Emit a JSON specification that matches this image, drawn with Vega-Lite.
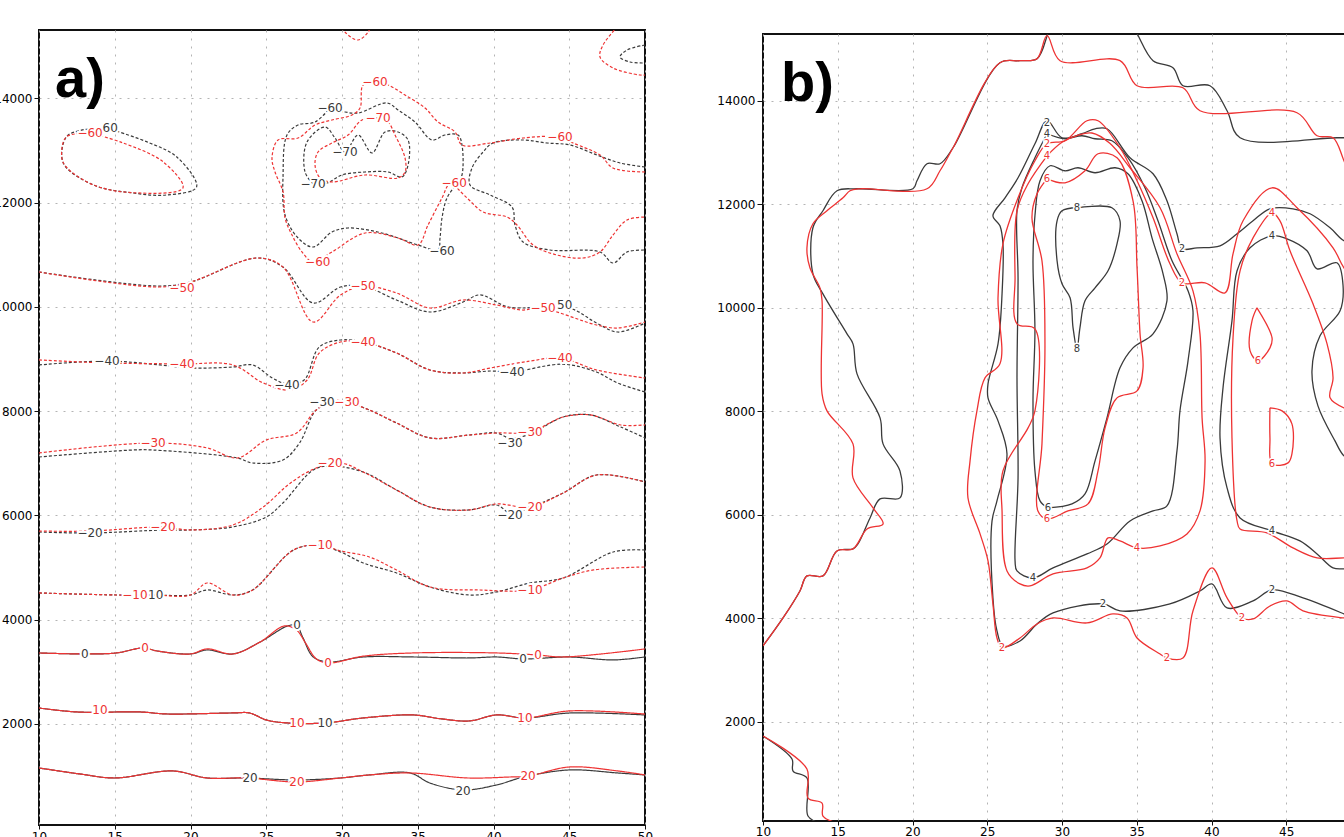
{
"$schema":"https://vega.github.io/schema/vega-lite/v6.json",
"padding":{"left":-8,"top":29,"right":0,"bottom":0},
"background":"white",
"spacing":118,
"bounds":"flush",
"center":true,
"config":{
 "view":{"stroke":"#111","strokeWidth":2},
 "axis":{"labelFont":"DejaVu Sans","labelFontSize":12,"labelColor":"#000","tickColor":"#111","domain":false,"grid":true,"gridColor":"#b4b4b4","gridDash":[2,6],"title":null,"labelFlush":false,"labelOverlap":false,"format":"d"}
},
"datasets":{
"meta":[
{"c":"ak20","r":"k","v":20},{"c":"ar20","r":"r","v":20},{"c":"ak10","r":"k","v":10},{"c":"ar10","r":"r","v":10},
{"c":"ak0","r":"k","v":0},{"c":"ar0","r":"r","v":0},{"c":"akm10","r":"k","v":-10},{"c":"arm10","r":"r","v":-10},
{"c":"akm20","r":"k","v":-20},{"c":"arm20","r":"r","v":-20},{"c":"akm30","r":"k","v":-30},{"c":"arm30","r":"r","v":-30},
{"c":"akm40","r":"k","v":-40},{"c":"arm40","r":"r","v":-40},{"c":"akm50","r":"k","v":-50},{"c":"arm50","r":"r","v":-50},
{"c":"akm60a","r":"k","v":-60},{"c":"arm60a","r":"r","v":-60},{"c":"akm60b","r":"k","v":-60},{"c":"akm60c","r":"k","v":-60},
{"c":"arm60b","r":"r","v":-60},{"c":"akm70","r":"k","v":-70},{"c":"arm70","r":"r","v":-70},{"c":"arv","r":"r","v":-70},
{"c":"artr","r":"r","v":-60},{"c":"aktr","r":"k","v":-60},
{"c":"bk2o","r":"k","v":2},{"c":"br2o","r":"r","v":2},{"c":"bk2t","r":"k","v":2},{"c":"bkbl","r":"k","v":2},{"c":"brbl","r":"r","v":2},
{"c":"bk2c","r":"k","v":2},{"c":"br2c","r":"r","v":2},{"c":"bk4c","r":"k","v":4},{"c":"br4c","r":"r","v":4},
{"c":"bk6c","r":"k","v":6},{"c":"br6c","r":"r","v":6},{"c":"bk8","r":"k","v":8},{"c":"bk4r","r":"k","v":4},{"c":"br4r","r":"r","v":4},
{"c":"br6a","r":"r","v":6},{"c":"br6b","r":"r","v":6}
],
"tags":[{"p":"a","t":"a)","x":11.06,"y":14026},{"p":"b","t":"b)","x":11.2,"y":14004}],
"pa":[
{"c":"ak20","x":10,"y":1156},{"c":"ak20","x":12.7,"y":1041},{"c":"ak20","x":15,"y":964},{"c":"ak20","x":18.8,"y":1099},{"c":"ak20","x":21.1,"y":964},{"c":"ak20","x":23.7,"y":964},{"c":"ak20","x":27,"y":926},{"c":"ak20","x":29.9,"y":964},{"c":"ak20","x":31.8,"y":1022},{"c":"ak20","x":34.5,"y":1060},{"c":"ak20","x":35.8,"y":868},{"c":"ak20","x":38,"y":734},{"c":"ak20","x":40.2,"y":830},{"c":"ak20","x":42,"y":983},{"c":"ak20","x":45,"y":1118},{"c":"ak20","x":48.2,"y":1060},{"c":"ak20","x":50,"y":1022},
{"c":"ak10","x":10,"y":2307},{"c":"ak10","x":12.5,"y":2230},{"c":"ak10","x":16.7,"y":2230},{"c":"ak10","x":18.4,"y":2192},{"c":"ak10","x":22.8,"y":2211},{"c":"ak10","x":23.9,"y":2211},{"c":"ak10","x":25,"y":2077},{"c":"ak10","x":26.4,"y":2019},{"c":"ak10","x":28.9,"y":2019},{"c":"ak10","x":31.4,"y":2115},{"c":"ak10","x":34.7,"y":2173},{"c":"ak10","x":36.5,"y":2100},{"c":"ak10","x":38.4,"y":2058},{"c":"ak10","x":40.2,"y":2173},{"c":"ak10","x":42.1,"y":2115},{"c":"ak10","x":45,"y":2210},{"c":"ak10","x":50,"y":2173},
{"c":"ak0","x":10,"y":3362},{"c":"ak0","x":13,"y":3343},{"c":"ak0","x":15.1,"y":3362},{"c":"ak0","x":16.9,"y":3458},{"c":"ak0","x":17.8,"y":3400},{"c":"ak0","x":20,"y":3343},{"c":"ak0","x":21.1,"y":3420},{"c":"ak0","x":22.8,"y":3343},{"c":"ak0","x":24.6,"y":3573},{"c":"ak0","x":26.4,"y":3880},{"c":"ak0","x":27,"y":3890},{"c":"ak0","x":27.4,"y":3669},{"c":"ak0","x":28.1,"y":3285},{"c":"ak0","x":29.1,"y":3190},{"c":"ak0","x":31.4,"y":3285},{"c":"ak0","x":34.7,"y":3285},{"c":"ak0","x":38.4,"y":3266},{"c":"ak0","x":40.2,"y":3285},{"c":"ak0","x":42,"y":3247},{"c":"ak0","x":45,"y":3285},{"c":"ak0","x":47.9,"y":3228},{"c":"ak0","x":50,"y":3285},
{"c":"akm10","x":10,"y":4513},{"c":"akm10","x":15.1,"y":4474},{"c":"akm10","x":17.5,"y":4474},{"c":"akm10","x":20,"y":4474},{"c":"akm10","x":21.1,"y":4570},{"c":"akm10","x":22.8,"y":4474},{"c":"akm10","x":24.1,"y":4570},{"c":"akm10","x":26.8,"y":5337},{"c":"akm10","x":28.5,"y":5430},{"c":"akm10","x":29.9,"y":5299},{"c":"akm10","x":31.4,"y":5088},{"c":"akm10","x":33.6,"y":4896},{"c":"akm10","x":35.8,"y":4628},{"c":"akm10","x":38.4,"y":4474},{"c":"akm10","x":40.2,"y":4532},{"c":"akm10","x":42.4,"y":4704},{"c":"akm10","x":44.6,"y":4800},{"c":"akm10","x":47.9,"y":5299},{"c":"akm10","x":50,"y":5337},
{"c":"akm20","x":10,"y":5682},{"c":"akm20","x":13.4,"y":5663},{"c":"akm20","x":18.2,"y":5720},{"c":"akm20","x":20,"y":5721},{"c":"akm20","x":22.8,"y":5780},{"c":"akm20","x":25,"y":5970},{"c":"akm20","x":26.1,"y":6239},{"c":"akm20","x":28.1,"y":6872},{"c":"akm20","x":29.2,"y":6950},{"c":"akm20","x":31.4,"y":6833},{"c":"akm20","x":33.6,"y":6488},{"c":"akm20","x":35.8,"y":6162},{"c":"akm20","x":38.4,"y":6105},{"c":"akm20","x":40.2,"y":6200},{"c":"akm20","x":41.1,"y":6050},{"c":"akm20","x":42.4,"y":6150},{"c":"akm20","x":44.6,"y":6431},{"c":"akm20","x":46.8,"y":6776},{"c":"akm20","x":50,"y":6642},
{"c":"akm30","x":10,"y":7121},{"c":"akm30","x":16.2,"y":7255},{"c":"akm30","x":17.5,"y":7255},{"c":"akm30","x":23.1,"y":7102},{"c":"akm30","x":24.1,"y":7006},{"c":"akm30","x":26.1,"y":7063},{"c":"akm30","x":27.2,"y":7390},{"c":"akm30","x":28.3,"y":8022},{"c":"akm30","x":29.5,"y":8180},{"c":"akm30","x":30.3,"y":8176},{"c":"akm30","x":31.8,"y":8022},{"c":"akm30","x":33.6,"y":7773},{"c":"akm30","x":35.8,"y":7486},{"c":"akm30","x":38.4,"y":7543},{"c":"akm30","x":40.2,"y":7581},{"c":"akm30","x":41.1,"y":7480},{"c":"akm30","x":42.4,"y":7560},{"c":"akm30","x":44.6,"y":7888},{"c":"akm30","x":46.4,"y":7927},{"c":"akm30","x":48.4,"y":7696},{"c":"akm30","x":50,"y":7486},
{"c":"akm40","x":10,"y":8886},{"c":"akm40","x":14.5,"y":8962},{"c":"akm40","x":18,"y":8886},{"c":"akm40","x":20,"y":8828},{"c":"akm40","x":22.8,"y":8847},{"c":"akm40","x":24.1,"y":8886},{"c":"akm40","x":25.4,"y":8636},{"c":"akm40","x":26.4,"y":8520},{"c":"akm40","x":27.5,"y":8598},{"c":"akm40","x":28.5,"y":9231},{"c":"akm40","x":29.9,"y":9365},{"c":"akm40","x":31.4,"y":9327},{"c":"akm40","x":33.6,"y":9116},{"c":"akm40","x":35.8,"y":8790},{"c":"akm40","x":38,"y":8732},{"c":"akm40","x":39.8,"y":8770},{"c":"akm40","x":41.2,"y":8751},{"c":"akm40","x":44.6,"y":8900},{"c":"akm40","x":46.8,"y":8751},{"c":"akm40","x":48.2,"y":8540},{"c":"akm40","x":50,"y":8368},
{"c":"akm50","x":10,"y":10669},{"c":"akm50","x":17.9,"y":10400},{"c":"akm50","x":20,"y":10477},{"c":"akm50","x":24.4,"y":10938},{"c":"akm50","x":26.1,"y":10765},{"c":"akm50","x":28.1,"y":10075},{"c":"akm50","x":29.9,"y":10381},{"c":"akm50","x":31.4,"y":10400},{"c":"akm50","x":33.6,"y":10132},{"c":"akm50","x":35.8,"y":9902},{"c":"akm50","x":38,"y":10094},{"c":"akm50","x":39.1,"y":10230},{"c":"akm50","x":41,"y":9998},{"c":"akm50","x":45,"y":9979},{"c":"akm50","x":46.8,"y":9691},{"c":"akm50","x":48.2,"y":9518},{"c":"akm50","x":50,"y":9691},
{"c":"akm60a","x":14.5,"y":13431},{"c":"akm60a","x":15.1,"y":13374},{"c":"akm60a","x":17.3,"y":13144},{"c":"akm60a","x":19.1,"y":12875},{"c":"akm60a","x":20.4,"y":12300},{"c":"akm60a","x":18.4,"y":12146},{"c":"akm60a","x":16.2,"y":12185},{"c":"akm60a","x":13.6,"y":12338},{"c":"akm60a","x":11.6,"y":12760},{"c":"akm60a","x":11.8,"y":13259},{"c":"akm60a","x":12.8,"y":13390},{"c":"akm60a","x":14.5,"y":13431},
{"c":"akm60b","x":29.21,"y":13815},{"c":"akm60b","x":30.2,"y":13738},{"c":"akm60b","x":31.06,"y":13719},{"c":"akm60b","x":32.97,"y":13911},{"c":"akm60b","x":33.7,"y":13777},{"c":"akm60b","x":34.82,"y":13546},{"c":"akm60b","x":35.94,"y":13201},{"c":"akm60b","x":36.8,"y":13297},{"c":"akm60b","x":37.66,"y":13297},{"c":"akm60b","x":37.92,"y":13105},{"c":"akm60b","x":37.92,"y":12530},{"c":"akm60b","x":37.66,"y":12396},{"c":"akm60b","x":36.93,"y":12089},{"c":"akm60b","x":36.6,"y":11705},{"c":"akm60b","x":36.47,"y":11321},{"c":"akm60b","x":36.34,"y":11091},{"c":"akm60b","x":35.02,"y":11187},{"c":"akm60b","x":32.64,"y":11417},{"c":"akm60b","x":30.4,"y":11513},{"c":"akm60b","x":29.34,"y":11437},{"c":"akm60b","x":28.09,"y":11149},{"c":"akm60b","x":27.1,"y":11321},{"c":"akm60b","x":26.24,"y":11763},{"c":"akm60b","x":26.11,"y":12530},{"c":"akm60b","x":26.37,"y":13297},{"c":"akm60b","x":27.1,"y":13489},{"c":"akm60b","x":28.22,"y":13546},{"c":"akm60b","x":29.21,"y":13815},
{"c":"akm60c","x":50,"y":12683},{"c":"akm60c","x":48.35,"y":12760},{"c":"akm60c","x":46.83,"y":12913},{"c":"akm60c","x":45.05,"y":13105},{"c":"akm60c","x":43.53,"y":13144},{"c":"akm60c","x":41.95,"y":13201},{"c":"akm60c","x":39.97,"y":13144},{"c":"akm60c","x":39.31,"y":12971},{"c":"akm60c","x":38.58,"y":12664},{"c":"akm60c","x":38.45,"y":12338},{"c":"akm60c","x":39.77,"y":12146},{"c":"akm60c","x":41.22,"y":11916},{"c":"akm60c","x":41.42,"y":11571},{"c":"akm60c","x":41.95,"y":11245},{"c":"akm60c","x":43.73,"y":11091},{"c":"akm60c","x":47.03,"y":11053},{"c":"akm60c","x":47.89,"y":10842},{"c":"akm60c","x":48.81,"y":11053},{"c":"akm60c","x":50,"y":11091},
{"c":"akm70","x":28.09,"y":12357},{"c":"akm70","x":27.56,"y":12587},{"c":"akm70","x":27.69,"y":13163},{"c":"akm70","x":28.88,"y":13450},{"c":"akm70","x":29.54,"y":13239},{"c":"akm70","x":30.2,"y":12971},{"c":"akm70","x":31.06,"y":13297},{"c":"akm70","x":31.98,"y":12952},{"c":"akm70","x":32.84,"y":13355},{"c":"akm70","x":33.7,"y":13355},{"c":"akm70","x":34.36,"y":13201},{"c":"akm70","x":34.36,"y":12722},{"c":"akm70","x":33.96,"y":12491},{"c":"akm70","x":33.04,"y":12587},{"c":"akm70","x":31.52,"y":12587},{"c":"akm70","x":30,"y":12530},{"c":"akm70","x":29.01,"y":12376},{"c":"akm70","x":28.09,"y":12357},
{"c":"aktr","x":50,"y":15023},{"c":"aktr","x":48.81,"y":14927},{"c":"aktr","x":48.35,"y":14793},{"c":"aktr","x":49.01,"y":14697},{"c":"aktr","x":50,"y":14678},
{"c":"ar20","x":10,"y":1156},{"c":"ar20","x":12.7,"y":1041},{"c":"ar20","x":15,"y":964},{"c":"ar20","x":18.8,"y":1099},{"c":"ar20","x":21.1,"y":964},{"c":"ar20","x":23.7,"y":964},{"c":"ar20","x":27,"y":888},{"c":"ar20","x":29.9,"y":964},{"c":"ar20","x":31.8,"y":1022},{"c":"ar20","x":34.5,"y":1060},{"c":"ar20","x":38.3,"y":964},{"c":"ar20","x":41.1,"y":983},{"c":"ar20","x":42.3,"y":1000},{"c":"ar20","x":45,"y":1175},{"c":"ar20","x":48.2,"y":1099},{"c":"ar20","x":50,"y":1022},
{"c":"ar10","x":10,"y":2307},{"c":"ar10","x":12.5,"y":2230},{"c":"ar10","x":16.7,"y":2230},{"c":"ar10","x":18.4,"y":2192},{"c":"ar10","x":22.8,"y":2211},{"c":"ar10","x":23.9,"y":2211},{"c":"ar10","x":25,"y":2077},{"c":"ar10","x":26.4,"y":2019},{"c":"ar10","x":28.9,"y":2019},{"c":"ar10","x":31.4,"y":2115},{"c":"ar10","x":34.7,"y":2173},{"c":"ar10","x":36.5,"y":2100},{"c":"ar10","x":38.4,"y":2058},{"c":"ar10","x":40.2,"y":2173},{"c":"ar10","x":42.1,"y":2115},{"c":"ar10","x":45,"y":2250},{"c":"ar10","x":50,"y":2190},
{"c":"ar0","x":10,"y":3362},{"c":"ar0","x":13,"y":3343},{"c":"ar0","x":15.1,"y":3362},{"c":"ar0","x":16.9,"y":3458},{"c":"ar0","x":17.8,"y":3400},{"c":"ar0","x":20,"y":3343},{"c":"ar0","x":21.1,"y":3440},{"c":"ar0","x":22.8,"y":3343},{"c":"ar0","x":24.6,"y":3573},{"c":"ar0","x":26.2,"y":3880},{"c":"ar0","x":27,"y":3800},{"c":"ar0","x":27.6,"y":3550},{"c":"ar0","x":28.3,"y":3250},{"c":"ar0","x":29.1,"y":3170},{"c":"ar0","x":31.4,"y":3300},{"c":"ar0","x":34.7,"y":3362},{"c":"ar0","x":40.2,"y":3362},{"c":"ar0","x":42.9,"y":3323},{"c":"ar0","x":44.6,"y":3285},{"c":"ar0","x":50,"y":3439},
{"c":"arm10","x":10,"y":4513},{"c":"arm10","x":15.1,"y":4474},{"c":"arm10","x":17.5,"y":4474},{"c":"arm10","x":20,"y":4474},{"c":"arm10","x":21.1,"y":4704},{"c":"arm10","x":22.8,"y":4474},{"c":"arm10","x":24.1,"y":4570},{"c":"arm10","x":26.8,"y":5337},{"c":"arm10","x":28.5,"y":5433},{"c":"arm10","x":29.9,"y":5320},{"c":"arm10","x":31.8,"y":5203},{"c":"arm10","x":33.6,"y":4954},{"c":"arm10","x":35.8,"y":4628},{"c":"arm10","x":39.1,"y":4570},{"c":"arm10","x":42.4,"y":4570},{"c":"arm10","x":44.6,"y":4800},{"c":"arm10","x":46.6,"y":4954},{"c":"arm10","x":50,"y":5011},
{"c":"arm20","x":10,"y":5700},{"c":"arm20","x":13.4,"y":5700},{"c":"arm20","x":18.2,"y":5778},{"c":"arm20","x":20,"y":5721},{"c":"arm20","x":22.8,"y":5817},{"c":"arm20","x":24.8,"y":6162},{"c":"arm20","x":26.6,"y":6622},{"c":"arm20","x":28.3,"y":6910},{"c":"arm20","x":29.9,"y":7006},{"c":"arm20","x":31.4,"y":6833},{"c":"arm20","x":33.6,"y":6488},{"c":"arm20","x":35.8,"y":6162},{"c":"arm20","x":38.4,"y":6105},{"c":"arm20","x":40.2,"y":6220},{"c":"arm20","x":42.4,"y":6162},{"c":"arm20","x":44.6,"y":6431},{"c":"arm20","x":46.8,"y":6776},{"c":"arm20","x":50,"y":6642},
{"c":"arm30","x":10,"y":7198},{"c":"arm30","x":17.5,"y":7390},{"c":"arm30","x":21.1,"y":7294},{"c":"arm30","x":23.1,"y":7102},{"c":"arm30","x":25,"y":7447},{"c":"arm30","x":27,"y":7581},{"c":"arm30","x":28.3,"y":8022},{"c":"arm30","x":29.5,"y":8200},{"c":"arm30","x":30.3,"y":8176},{"c":"arm30","x":31.8,"y":8022},{"c":"arm30","x":33.6,"y":7773},{"c":"arm30","x":35.8,"y":7486},{"c":"arm30","x":38.4,"y":7543},{"c":"arm30","x":40.2,"y":7581},{"c":"arm30","x":42.4,"y":7601},{"c":"arm30","x":44.6,"y":7888},{"c":"arm30","x":46.4,"y":7927},{"c":"arm30","x":48.4,"y":7735},{"c":"arm30","x":50,"y":7735},
{"c":"arm40","x":10,"y":8982},{"c":"arm40","x":14.5,"y":8924},{"c":"arm40","x":19.4,"y":8905},{"c":"arm40","x":22.8,"y":8886},{"c":"arm40","x":24.8,"y":8540},{"c":"arm40","x":26.6,"y":8406},{"c":"arm40","x":27.7,"y":8598},{"c":"arm40","x":28.5,"y":9116},{"c":"arm40","x":29.9,"y":9327},{"c":"arm40","x":31.4,"y":9327},{"c":"arm40","x":33.6,"y":9116},{"c":"arm40","x":35.8,"y":8790},{"c":"arm40","x":38,"y":8732},{"c":"arm40","x":39.8,"y":8828},{"c":"arm40","x":42.4,"y":8960},{"c":"arm40","x":44.4,"y":9020},{"c":"arm40","x":46.8,"y":8790},{"c":"arm40","x":50,"y":8636},
{"c":"arm50","x":10,"y":10669},{"c":"arm50","x":17.9,"y":10381},{"c":"arm50","x":20,"y":10477},{"c":"arm50","x":24.4,"y":10938},{"c":"arm50","x":26.1,"y":10765},{"c":"arm50","x":28.1,"y":9710},{"c":"arm50","x":29.9,"y":10228},{"c":"arm50","x":31.4,"y":10400},{"c":"arm50","x":33.6,"y":10266},{"c":"arm50","x":35.8,"y":9979},{"c":"arm50","x":38,"y":10132},{"c":"arm50","x":40.2,"y":10036},{"c":"arm50","x":41.9,"y":9940},{"c":"arm50","x":43.1,"y":9979},{"c":"arm50","x":46.8,"y":9653},{"c":"arm50","x":48.2,"y":9595},{"c":"arm50","x":50,"y":9710},
{"c":"arm60a","x":13.4,"y":13335},{"c":"arm60a","x":15.5,"y":13150},{"c":"arm60a","x":18.2,"y":12780},{"c":"arm60a","x":19.5,"y":12280},{"c":"arm60a","x":16.2,"y":12190},{"c":"arm60a","x":13.6,"y":12338},{"c":"arm60a","x":11.8,"y":12683},{"c":"arm60a","x":11.5,"y":12875},{"c":"arm60a","x":11.8,"y":13259},{"c":"arm60a","x":13.4,"y":13335},
{"c":"arm60b","x":50,"y":12587},{"c":"arm60b","x":47.89,"y":12664},{"c":"arm60b","x":47.03,"y":12913},{"c":"arm60b","x":45.25,"y":13144},{"c":"arm60b","x":44.39,"y":13259},{"c":"arm60b","x":41.95,"y":13239},{"c":"arm60b","x":39.77,"y":13144},{"c":"arm60b","x":37.92,"y":13105},{"c":"arm60b","x":37.46,"y":13355},{"c":"arm60b","x":36.34,"y":13546},{"c":"arm60b","x":35.48,"y":13815},{"c":"arm60b","x":34.16,"y":14064},{"c":"arm60b","x":33.04,"y":14256},{"c":"arm60b","x":32.18,"y":14314},{"c":"arm60b","x":31.39,"y":14256},{"c":"arm60b","x":31.19,"y":13815},{"c":"arm60b","x":30.66,"y":13681},{"c":"arm60b","x":29.34,"y":13585},{"c":"arm60b","x":28.22,"y":13489},{"c":"arm60b","x":27.1,"y":13239},{"c":"arm60b","x":25.78,"y":13201},{"c":"arm60b","x":25.38,"y":12856},{"c":"arm60b","x":25.58,"y":12587},{"c":"arm60b","x":26.11,"y":12204},{"c":"arm60b","x":26.24,"y":11705},{"c":"arm60b","x":26.7,"y":11379},{"c":"arm60b","x":27.36,"y":11053},{"c":"arm60b","x":28.09,"y":10861},{"c":"arm60b","x":29.34,"y":11053},{"c":"arm60b","x":31.52,"y":11417},{"c":"arm60b","x":33.7,"y":11321},{"c":"arm60b","x":35.02,"y":11187},{"c":"arm60b","x":35.68,"y":11571},{"c":"arm60b","x":36.6,"y":12089},{"c":"arm60b","x":37.13,"y":12357},{"c":"arm60b","x":38.25,"y":12089},{"c":"arm60b","x":39.31,"y":11820},{"c":"arm60b","x":40.89,"y":11724},{"c":"arm60b","x":41.55,"y":11571},{"c":"arm60b","x":42.61,"y":11187},{"c":"arm60b","x":44.19,"y":10995},{"c":"arm60b","x":45.91,"y":10938},{"c":"arm60b","x":47.03,"y":11053},{"c":"arm60b","x":47.89,"y":11379},{"c":"arm60b","x":48.81,"y":11667},{"c":"arm60b","x":50,"y":11724},
{"c":"arm70","x":32.38,"y":13623},{"c":"arm70","x":31.32,"y":13585},{"c":"arm70","x":30.4,"y":13297},{"c":"arm70","x":29.34,"y":13144},{"c":"arm70","x":28.42,"y":12971},{"c":"arm70","x":28.22,"y":12722},{"c":"arm70","x":28.55,"y":12472},{"c":"arm70","x":29.34,"y":12396},{"c":"arm70","x":31.52,"y":12530},{"c":"arm70","x":33.7,"y":12472},{"c":"arm70","x":34.16,"y":12587},{"c":"arm70","x":34.16,"y":12856},{"c":"arm70","x":33.5,"y":13297},{"c":"arm70","x":33.04,"y":13546},{"c":"arm70","x":32.38,"y":13623},
{"c":"arv","x":29.9,"y":15450},{"c":"arv","x":30.2,"y":15272},{"c":"arv","x":31.06,"y":15119},{"c":"arv","x":31.72,"y":15272},{"c":"arv","x":32,"y":15450},
{"c":"artr","x":48.4,"y":15450},{"c":"artr","x":47.23,"y":15023},{"c":"artr","x":47.03,"y":14793},{"c":"artr","x":47.89,"y":14582},{"c":"artr","x":49.67,"y":14448},{"c":"artr","x":50,"y":14448}
],
"pb":[
{"c":"bk2o","x":10,"y":3464},{"c":"bk2o","x":11.34,"y":4005},{"c":"bk2o","x":12.47,"y":4527},{"c":"bk2o","x":12.94,"y":4818},{"c":"bk2o","x":14.01,"y":4818},{"c":"bk2o","x":14.95,"y":5301},{"c":"bk2o","x":16.02,"y":5340},{"c":"bk2o","x":16.35,"y":5436},{"c":"bk2o","x":17.16,"y":5939},{"c":"bk2o","x":17.83,"y":6307},{"c":"bk2o","x":19.16,"y":6326},{"c":"bk2o","x":19.16,"y":6848},{"c":"bk2o","x":18.03,"y":7370},{"c":"bk2o","x":17.83,"y":7873},{"c":"bk2o","x":16.29,"y":8724},{"c":"bk2o","x":16.02,"y":9304},{"c":"bk2o","x":15.62,"y":9498},{"c":"bk2o","x":14.01,"y":10271},{"c":"bk2o","x":13.34,"y":10658},{"c":"bk2o","x":13.34,"y":11548},{"c":"bk2o","x":14.01,"y":11877},{"c":"bk2o","x":14.95,"y":12263},{"c":"bk2o","x":16.29,"y":12302},{"c":"bk2o","x":20.03,"y":12302},{"c":"bk2o","x":20.3,"y":12457},{"c":"bk2o","x":20.97,"y":12786},{"c":"bk2o","x":21.84,"y":12786},{"c":"bk2o","x":22.71,"y":13095},{"c":"bk2o","x":25.85,"y":14739},{"c":"bk2o","x":27.19,"y":14778},{"c":"bk2o","x":28.33,"y":14816},{"c":"bk2o","x":29,"y":15261},{"c":"bk2o","x":29.2,"y":15500},
{"c":"bk2t","x":34.6,"y":15500},{"c":"bk2t","x":35.02,"y":15300},{"c":"bk2t","x":36.09,"y":14778},{"c":"bk2t","x":37.42,"y":14642},{"c":"bk2t","x":38.09,"y":14294},{"c":"bk2t","x":39.9,"y":14294},{"c":"bk2t","x":41.04,"y":13811},{"c":"bk2t","x":41.91,"y":13288},{"c":"bk2t","x":48.39,"y":13288},{"c":"bk2t","x":49.93,"y":13288},
{"c":"bkbl","x":10,"y":1723},{"c":"bkbl","x":11.94,"y":1278},{"c":"bkbl","x":12.01,"y":1046},{"c":"bkbl","x":12.94,"y":911},{"c":"bkbl","x":13.01,"y":176},{"c":"bkbl","x":13.81,"y":41},
{"c":"bk2c","x":49.93,"y":11200},{"c":"bk2c","x":48.86,"y":11296},{"c":"bk2c","x":47.93,"y":11548},{"c":"bk2c","x":46.59,"y":11819},{"c":"bk2c","x":45.45,"y":11915},{"c":"bk2c","x":43.91,"y":11915},{"c":"bk2c","x":42.78,"y":11683},{"c":"bk2c","x":41.71,"y":11432},{"c":"bk2c","x":40.57,"y":11200},{"c":"bk2c","x":39.03,"y":11161},{"c":"bk2c","x":38.03,"y":11142},{"c":"bk2c","x":37.69,"y":11432},{"c":"bk2c","x":37.02,"y":12070},{"c":"bk2c","x":36.09,"y":12592},{"c":"bk2c","x":34.55,"y":12902},{"c":"bk2c","x":33.01,"y":13462},{"c":"bk2c","x":32.21,"y":13462},{"c":"bk2c","x":31.34,"y":13366},{"c":"bk2c","x":30,"y":13288},{"c":"bk2c","x":29,"y":13617},{"c":"bk2c","x":28.19,"y":13172},{"c":"bk2c","x":27.06,"y":12515},{"c":"bk2c","x":26.19,"y":12128},{"c":"bk2c","x":25.38,"y":11780},{"c":"bk2c","x":25.85,"y":11586},{"c":"bk2c","x":26.05,"y":11238},{"c":"bk2c","x":25.99,"y":10271},{"c":"bk2c","x":25.72,"y":9304},{"c":"bk2c","x":25.05,"y":8531},{"c":"bk2c","x":25.05,"y":8260},{"c":"bk2c","x":25.72,"y":7815},{"c":"bk2c","x":26.32,"y":7177},{"c":"bk2c","x":25.65,"y":6268},{"c":"bk2c","x":25.32,"y":5881},{"c":"bk2c","x":25.38,"y":4392},{"c":"bk2c","x":25.65,"y":3754},{"c":"bk2c","x":26.05,"y":3464},{"c":"bk2c","x":27.19,"y":3560},{"c":"bk2c","x":28.33,"y":3889},{"c":"bk2c","x":29.4,"y":4102},{"c":"bk2c","x":32.74,"y":4276},{"c":"bk2c","x":33.88,"y":4141},{"c":"bk2c","x":37.22,"y":4276},{"c":"bk2c","x":39.23,"y":4527},{"c":"bk2c","x":40.03,"y":4663},{"c":"bk2c","x":41.04,"y":4199},{"c":"bk2c","x":42.78,"y":4334},{"c":"bk2c","x":44.05,"y":4547},{"c":"bk2c","x":46.12,"y":4392},{"c":"bk2c","x":48.86,"y":4083},{"c":"bk2c","x":49.93,"y":3947},
{"c":"bk4c","x":29,"y":13366},{"c":"bk4c","x":30.2,"y":13269},{"c":"bk4c","x":31.34,"y":13327},{"c":"bk4c","x":32.21,"y":13269},{"c":"bk4c","x":33.34,"y":13230},{"c":"bk4c","x":34.41,"y":12902},{"c":"bk4c","x":35.55,"y":12321},{"c":"bk4c","x":36.42,"y":11683},{"c":"bk4c","x":37.36,"y":10910},{"c":"bk4c","x":38.43,"y":10329},{"c":"bk4c","x":38.76,"y":9943},{"c":"bk4c","x":38.43,"y":8976},{"c":"bk4c","x":37.89,"y":8009},{"c":"bk4c","x":37.69,"y":7235},{"c":"bk4c","x":37.02,"y":6171},{"c":"bk4c","x":36.09,"y":6075},{"c":"bk4c","x":34.55,"y":5881},{"c":"bk4c","x":33.01,"y":5436},{"c":"bk4c","x":31.67,"y":5243},{"c":"bk4c","x":29.4,"y":4972},{"c":"bk4c","x":28.06,"y":4779},{"c":"bk4c","x":26.99,"y":4914},{"c":"bk4c","x":26.86,"y":5108},{"c":"bk4c","x":27.06,"y":6713},{"c":"bk4c","x":26.99,"y":8647},{"c":"bk4c","x":27.06,"y":10581},{"c":"bk4c","x":26.99,"y":11877},{"c":"bk4c","x":27.32,"y":12321},{"c":"bk4c","x":28.19,"y":12902},{"c":"bk4c","x":29,"y":13366},
{"c":"bk6c","x":29.06,"y":6133},{"c":"bk6c","x":30.67,"y":6210},{"c":"bk6c","x":31.54,"y":6403},{"c":"bk6c","x":32.21,"y":7042},{"c":"bk6c","x":33.01,"y":7873},{"c":"bk6c","x":33.88,"y":8840},{"c":"bk6c","x":34.75,"y":9227},{"c":"bk6c","x":36.09,"y":9498},{"c":"bk6c","x":37.02,"y":10136},{"c":"bk6c","x":36.76,"y":10658},{"c":"bk6c","x":36.02,"y":11354},{"c":"bk6c","x":35.35,"y":12070},{"c":"bk6c","x":34.41,"y":12592},{"c":"bk6c","x":33.55,"y":12708},{"c":"bk6c","x":32.21,"y":12612},{"c":"bk6c","x":31.07,"y":12708},{"c":"bk6c","x":30.2,"y":12650},{"c":"bk6c","x":29.2,"y":12747},{"c":"bk6c","x":28.53,"y":12457},{"c":"bk6c","x":28.19,"y":11780},{"c":"bk6c","x":28.06,"y":10910},{"c":"bk6c","x":28.19,"y":9556},{"c":"bk6c","x":28.06,"y":8202},{"c":"bk6c","x":28.19,"y":6848},{"c":"bk6c","x":28.53,"y":6268},{"c":"bk6c","x":29.06,"y":6133},
{"c":"bk8","x":31,"y":11935},{"c":"bk8","x":33.34,"y":11935},{"c":"bk8","x":33.88,"y":11683},{"c":"bk8","x":33.68,"y":11238},{"c":"bk8","x":33.08,"y":10716},{"c":"bk8","x":32.21,"y":10387},{"c":"bk8","x":31.54,"y":10136},{"c":"bk8","x":31.2,"y":9614},{"c":"bk8","x":31,"y":9208},{"c":"bk8","x":30.74,"y":9614},{"c":"bk8","x":30.54,"y":10194},{"c":"bk8","x":30,"y":10465},{"c":"bk8","x":29.67,"y":10910},{"c":"bk8","x":29.67,"y":11683},{"c":"bk8","x":30,"y":11877},{"c":"bk8","x":31,"y":11935},
{"c":"bk4r","x":49.93,"y":4953},{"c":"bk4r","x":48.86,"y":4953},{"c":"bk4r","x":48.13,"y":4972},{"c":"bk4r","x":47.06,"y":5243},{"c":"bk4r","x":45.92,"y":5494},{"c":"bk4r","x":44.05,"y":5688},{"c":"bk4r","x":41.91,"y":5939},{"c":"bk4r","x":41.04,"y":6519},{"c":"bk4r","x":40.57,"y":7486},{"c":"bk4r","x":40.77,"y":8453},{"c":"bk4r","x":41.37,"y":9749},{"c":"bk4r","x":41.71,"y":10716},{"c":"bk4r","x":42.58,"y":11161},{"c":"bk4r","x":44.05,"y":11393},{"c":"bk4r","x":45.05,"y":11335},{"c":"bk4r","x":46.39,"y":11103},{"c":"bk4r","x":47.06,"y":10755},{"c":"bk4r","x":48.39,"y":10871},{"c":"bk4r","x":48.8,"y":10426},{"c":"bk4r","x":48.6,"y":9943},{"c":"bk4r","x":47.26,"y":9459},{"c":"bk4r","x":46.72,"y":8782},{"c":"bk4r","x":47.12,"y":8105},{"c":"bk4r","x":48.26,"y":7428},{"c":"bk4r","x":48.86,"y":7138},{"c":"bk4r","x":49.93,"y":6945},
{"c":"br2o","x":10,"y":3464},{"c":"br2o","x":11.34,"y":4005},{"c":"br2o","x":12.47,"y":4527},{"c":"br2o","x":12.94,"y":4818},{"c":"br2o","x":14.01,"y":4818},{"c":"br2o","x":14.95,"y":5301},{"c":"br2o","x":16.02,"y":5340},{"c":"br2o","x":16.96,"y":5726},{"c":"br2o","x":18.03,"y":5823},{"c":"br2o","x":17.36,"y":6133},{"c":"br2o","x":16.02,"y":6713},{"c":"br2o","x":16.02,"y":7370},{"c":"br2o","x":14.28,"y":8009},{"c":"br2o","x":13.95,"y":8337},{"c":"br2o","x":13.95,"y":10136},{"c":"br2o","x":13.81,"y":10387},{"c":"br2o","x":13.14,"y":10774},{"c":"br2o","x":12.94,"y":11161},{"c":"br2o","x":13.34,"y":11625},{"c":"br2o","x":14.28,"y":11877},{"c":"br2o","x":15.35,"y":12128},{"c":"br2o","x":15.82,"y":12263},{"c":"br2o","x":16.49,"y":12302},{"c":"br2o","x":20.97,"y":12302},{"c":"br2o","x":21.84,"y":12650},{"c":"br2o","x":22.71,"y":13095},{"c":"br2o","x":25.85,"y":14739},{"c":"br2o","x":27.19,"y":14778},{"c":"br2o","x":28.33,"y":14816},{"c":"br2o","x":29,"y":15261},{"c":"br2o","x":29.87,"y":14778},{"c":"br2o","x":33.88,"y":14778},{"c":"br2o","x":35.02,"y":14294},{"c":"br2o","x":38.09,"y":14255},{"c":"br2o","x":39.23,"y":13811},{"c":"br2o","x":45.72,"y":13772},{"c":"br2o","x":47.06,"y":13327},{"c":"br2o","x":48.13,"y":13288},{"c":"br2o","x":48.86,"y":12844},{"c":"br2o","x":49.93,"y":12070},
{"c":"brbl","x":10,"y":1723},{"c":"brbl","x":12.94,"y":1085},{"c":"brbl","x":13.01,"y":524},{"c":"brbl","x":13.95,"y":427},{"c":"brbl","x":14.01,"y":176},{"c":"brbl","x":14.95,"y":41},
{"c":"br2c","x":49.93,"y":10426},{"c":"br2c","x":48.86,"y":10774},{"c":"br2c","x":48.13,"y":11161},{"c":"br2c","x":45.72,"y":11935},{"c":"br2c","x":44.05,"y":12321},{"c":"br2c","x":42.11,"y":11683},{"c":"br2c","x":41.44,"y":11045},{"c":"br2c","x":40.9,"y":10291},{"c":"br2c","x":39.57,"y":10484},{"c":"br2c","x":38.03,"y":10484},{"c":"br2c","x":37.22,"y":10852},{"c":"br2c","x":36.09,"y":11741},{"c":"br2c","x":35.02,"y":12457},{"c":"br2c","x":33.88,"y":13095},{"c":"br2c","x":32.41,"y":13617},{"c":"br2c","x":31.67,"y":13617},{"c":"br2c","x":30.2,"y":13230},{"c":"br2c","x":29,"y":13172},{"c":"br2c","x":28.19,"y":12844},{"c":"br2c","x":27.06,"y":12128},{"c":"br2c","x":26.05,"y":11238},{"c":"br2c","x":25.72,"y":10194},{"c":"br2c","x":25.85,"y":8918},{"c":"br2c","x":24.85,"y":8647},{"c":"br2c","x":24.31,"y":8009},{"c":"br2c","x":23.85,"y":7042},{"c":"br2c","x":23.71,"y":6326},{"c":"br2c","x":24.52,"y":5630},{"c":"br2c","x":25.05,"y":5108},{"c":"br2c","x":25.38,"y":4276},{"c":"br2c","x":25.65,"y":3618},{"c":"br2c","x":25.99,"y":3425},{"c":"br2c","x":27.19,"y":3618},{"c":"br2c","x":28.33,"y":3889},{"c":"br2c","x":29.4,"y":4005},{"c":"br2c","x":31.67,"y":3909},{"c":"br2c","x":33.41,"y":4083},{"c":"br2c","x":34.35,"y":4005},{"c":"br2c","x":35.02,"y":3618},{"c":"br2c","x":36.56,"y":3309},{"c":"br2c","x":37.02,"y":3232},{"c":"br2c","x":38.09,"y":3232},{"c":"br2c","x":38.76,"y":4141},{"c":"br2c","x":40.03,"y":4972},{"c":"br2c","x":41.04,"y":4392},{"c":"br2c","x":42.04,"y":4005},{"c":"br2c","x":42.78,"y":3986},{"c":"br2c","x":43.91,"y":4237},{"c":"br2c","x":45.05,"y":4334},{"c":"br2c","x":46.12,"y":4141},{"c":"br2c","x":48.86,"y":4005},{"c":"br2c","x":49.93,"y":3986},
{"c":"br4c","x":29,"y":12940},{"c":"br4c","x":30,"y":13200},{"c":"br4c","x":31,"y":13330},{"c":"br4c","x":32,"y":13380},{"c":"br4c","x":33.2,"y":13180},{"c":"br4c","x":34.55,"y":12708},{"c":"br4c","x":36.56,"y":11935},{"c":"br4c","x":37.69,"y":11045},{"c":"br4c","x":38.76,"y":10329},{"c":"br4c","x":39.23,"y":9498},{"c":"br4c","x":39.37,"y":7873},{"c":"br4c","x":39.57,"y":7042},{"c":"br4c","x":39.23,"y":6075},{"c":"br4c","x":38.36,"y":5630},{"c":"br4c","x":36.56,"y":5398},{"c":"br4c","x":35.02,"y":5359},{"c":"br4c","x":33.88,"y":5494},{"c":"br4c","x":33.08,"y":5552},{"c":"br4c","x":32.54,"y":5166},{"c":"br4c","x":31.67,"y":4972},{"c":"br4c","x":29.4,"y":4856},{"c":"br4c","x":27.86,"y":4624},{"c":"br4c","x":27.19,"y":4663},{"c":"br4c","x":26.32,"y":4914},{"c":"br4c","x":25.99,"y":6075},{"c":"br4c","x":26.05,"y":6848},{"c":"br4c","x":27.73,"y":7680},{"c":"br4c","x":28.19,"y":8009},{"c":"br4c","x":28.19,"y":9594},{"c":"br4c","x":26.99,"y":9691},{"c":"br4c","x":26.86,"y":10581},{"c":"br4c","x":26.99,"y":11877},{"c":"br4c","x":27.73,"y":12399},{"c":"br4c","x":29,"y":12940},
{"c":"br6c","x":29,"y":12495},{"c":"br6c","x":30.2,"y":12418},{"c":"br6c","x":31.54,"y":12650},{"c":"br6c","x":32.41,"y":12979},{"c":"br6c","x":33.68,"y":12902},{"c":"br6c","x":34.75,"y":12070},{"c":"br6c","x":35.02,"y":10774},{"c":"br6c","x":35.22,"y":9498},{"c":"br6c","x":35.42,"y":8840},{"c":"br6c","x":35.02,"y":8395},{"c":"br6c","x":33.68,"y":8260},{"c":"br6c","x":32.88,"y":7680},{"c":"br6c","x":32.41,"y":6848},{"c":"br6c","x":31.74,"y":6210},{"c":"br6c","x":30.4,"y":6075},{"c":"br6c","x":29,"y":5920},{"c":"br6c","x":28.39,"y":6075},{"c":"br6c","x":28.66,"y":7370},{"c":"br6c","x":28.86,"y":9304},{"c":"br6c","x":28.66,"y":10910},{"c":"br6c","x":27.99,"y":11741},{"c":"br6c","x":28.33,"y":12205},{"c":"br6c","x":29,"y":12495},
{"c":"br4r","x":49.93,"y":5166},{"c":"br4r","x":48.86,"y":5166},{"c":"br4r","x":47.06,"y":5166},{"c":"br4r","x":45.45,"y":5359},{"c":"br4r","x":43.71,"y":5649},{"c":"br4r","x":41.91,"y":5726},{"c":"br4r","x":41.71,"y":5881},{"c":"br4r","x":41.37,"y":7486},{"c":"br4r","x":41.44,"y":9420},{"c":"br4r","x":41.91,"y":10716},{"c":"br4r","x":42.78,"y":11354},{"c":"br4r","x":44.05,"y":11838},{"c":"br4r","x":44.58,"y":11683},{"c":"br4r","x":45.25,"y":11103},{"c":"br4r","x":46.79,"y":10078},{"c":"br4r","x":47.73,"y":9304},{"c":"br4r","x":48.13,"y":8647},{"c":"br4r","x":47.93,"y":8260},{"c":"br4r","x":48.86,"y":8067},{"c":"br4r","x":49.93,"y":8009},
{"c":"br6a","x":43.04,"y":10001},{"c":"br6a","x":44.05,"y":9420},{"c":"br6a","x":43.91,"y":9227},{"c":"br6a","x":43.11,"y":8976},{"c":"br6a","x":42.58,"y":9169},{"c":"br6a","x":42.71,"y":9749},{"c":"br6a","x":43.04,"y":10001},
{"c":"br6b","x":43.91,"y":8067},{"c":"br6b","x":44.72,"y":8009},{"c":"br6b","x":45.38,"y":7757},{"c":"br6b","x":45.38,"y":7177},{"c":"br6b","x":45.12,"y":7003},{"c":"br6b","x":44.05,"y":6983},{"c":"br6b","x":43.91,"y":7486},{"c":"br6b","x":43.91,"y":8067}
],
"la":[
{"t":"60","r":"k","x":14.7,"y":13431},{"t":"−60","r":"k","x":29.21,"y":13815},{"t":"−60","r":"k","x":36.6,"y":11070},{"t":"−70","r":"k","x":30.2,"y":12971},{"t":"−70","r":"k","x":28.09,"y":12357},
{"t":"50","r":"k","x":44.7,"y":10036},{"t":"−40","r":"k","x":14.49,"y":8962},{"t":"−40","r":"k","x":26.37,"y":8502},{"t":"−40","r":"k","x":41.22,"y":8751},
{"t":"−30","r":"k","x":28.68,"y":8176},{"t":"−30","r":"k","x":41.09,"y":7389},{"t":"−20","r":"k","x":13.37,"y":5663},{"t":"−20","r":"k","x":41.09,"y":6008},
{"t":"10","r":"k","x":17.7,"y":4474},{"t":"0","r":"k","x":13.03,"y":3343},{"t":"0","r":"k","x":27.03,"y":3899},{"t":"0","r":"k","x":41.95,"y":3247},
{"t":"10","r":"k","x":28.88,"y":2019},{"t":"20","r":"k","x":23.93,"y":964},{"t":"20","r":"k","x":37.99,"y":715},
{"t":"−60","r":"r","x":13.37,"y":13335},{"t":"−60","r":"r","x":32.18,"y":14314},{"t":"−60","r":"r","x":28.4,"y":10861},{"t":"−60","r":"r","x":37.4,"y":12376},{"t":"−60","r":"r","x":44.39,"y":13259},
{"t":"−70","r":"r","x":32.38,"y":13623},{"t":"−50","r":"r","x":19.44,"y":10362},{"t":"−50","r":"r","x":31.39,"y":10401},{"t":"−50","r":"r","x":43.27,"y":9979},
{"t":"−40","r":"r","x":19.44,"y":8905},{"t":"−40","r":"r","x":31.39,"y":9326},{"t":"−40","r":"r","x":44.39,"y":9020},
{"t":"−30","r":"r","x":17.53,"y":7389},{"t":"−30","r":"r","x":30.33,"y":8176},{"t":"−30","r":"r","x":42.41,"y":7600},
{"t":"−20","r":"r","x":18.18,"y":5778},{"t":"−20","r":"r","x":29.21,"y":7006},{"t":"−20","r":"r","x":42.41,"y":6162},
{"t":"−10","r":"r","x":16.33,"y":4474},{"t":"−10","r":"r","x":28.55,"y":5433},{"t":"−10","r":"r","x":42.41,"y":4570},
{"t":"0","r":"r","x":17,"y":3457},{"t":"0","r":"r","x":29.08,"y":3170},{"t":"0","r":"r","x":42.94,"y":3323},
{"t":"10","r":"r","x":14.02,"y":2268},{"t":"10","r":"r","x":27.03,"y":2019},{"t":"10","r":"r","x":42.08,"y":2115},
{"t":"20","r":"r","x":27.03,"y":888},{"t":"20","r":"r","x":42.28,"y":1003}
],
"lb":[
{"t":"2","r":"k","x":29,"y":13579},{"t":"4","r":"k","x":29,"y":13366},{"t":"2","r":"k","x":38.03,"y":11142},{"t":"2","r":"k","x":32.74,"y":4276},{"t":"2","r":"k","x":44.05,"y":4547},
{"t":"4","r":"k","x":28.06,"y":4779},{"t":"4","r":"k","x":44.05,"y":11393},{"t":"4","r":"k","x":44.05,"y":5688},{"t":"6","r":"k","x":29.06,"y":6133},{"t":"8","r":"k","x":31,"y":11935},{"t":"8","r":"k","x":31,"y":9208},
{"t":"2","r":"r","x":29,"y":13172},{"t":"4","r":"r","x":29,"y":12940},{"t":"6","r":"r","x":29,"y":12495},{"t":"2","r":"r","x":38.03,"y":10484},{"t":"2","r":"r","x":25.99,"y":3425},
{"t":"2","r":"r","x":37.02,"y":3232},{"t":"2","r":"r","x":42.04,"y":4005},{"t":"4","r":"r","x":35.02,"y":5359},{"t":"4","r":"r","x":44.05,"y":11838},
{"t":"6","r":"r","x":29,"y":5920},{"t":"6","r":"r","x":43.11,"y":8976},{"t":"6","r":"r","x":44.05,"y":6983}
]
},
"hconcat":[
{
 "width":606,"height":795,
 "encoding":{
  "x":{"field":"x","type":"quantitative","scale":{"domain":[10,50],"nice":false,"zero":false},"axis":{"values":[10,15,20,25,30,35,40,45,50],"tickSize":4,"labelPadding":2}},
  "y":{"field":"y","type":"quantitative","scale":{"domain":[62,15311],"nice":false,"zero":false},"axis":{"values":[2000,4000,6000,8000,10000,12000,14000],"tickSize":5,"labelPadding":2}}
 },
 "layer":[
  {"data":{"name":"pa"},"transform":[{"lookup":"c","from":{"data":{"name":"meta"},"key":"c","fields":["r","v"]}},{"filter":"datum.r==='k'"}],
   "mark":{"type":"line","clip":true,"color":"#3a3a3a","strokeWidth":1.2,"interpolate":"catmull-rom"},
   "encoding":{"detail":{"field":"c"},"order":{"value":null},"strokeDash":{"condition":{"test":"datum.v<0","value":[3,2]},"value":[1,0]}}},
  {"data":{"name":"pa"},"transform":[{"lookup":"c","from":{"data":{"name":"meta"},"key":"c","fields":["r","v"]}},{"filter":"datum.r==='r'"}],
   "mark":{"type":"line","clip":true,"color":"#ee3333","strokeWidth":1.2,"interpolate":"catmull-rom"},
   "encoding":{"detail":{"field":"c"},"order":{"value":null},"strokeDash":{"condition":{"test":"datum.v<0","value":[3,2]},"value":[1,0]}}},
  {"data":{"name":"la"},"mark":{"type":"text","font":"DejaVu Sans","fontSize":12,"fill":"white","stroke":"white","strokeWidth":4},
   "encoding":{"text":{"field":"t"}}},
  {"data":{"name":"la"},"mark":{"type":"text","font":"DejaVu Sans","fontSize":12},
   "encoding":{"text":{"field":"t"},"color":{"field":"r","type":"nominal","scale":{"domain":["k","r"],"range":["#3a3a3a","#ee3333"]},"legend":null}}},
  {"data":{"name":"tags"},"transform":[{"filter":"datum.p==='a'"}],"mark":{"type":"text","font":"Liberation Sans","fontSize":56,"fontWeight":"bold","align":"left","baseline":"alphabetic","fill":"#000"},
   "encoding":{"text":{"field":"t"}}}
 ]
},
{
 "width":598,"height":787,
 "encoding":{
  "x":{"field":"x","type":"quantitative","scale":{"domain":[10,50],"nice":false,"zero":false},"axis":{"values":[10,15,20,25,30,35,40,45,50],"tickSize":4,"labelPadding":1}},
  "y":{"field":"y","type":"quantitative","scale":{"domain":[80,15294],"nice":false,"zero":false},"axis":{"values":[2000,4000,6000,8000,10000,12000,14000],"tickSize":6,"labelPadding":2}}
 },
 "layer":[
  {"data":{"name":"pb"},"transform":[{"lookup":"c","from":{"data":{"name":"meta"},"key":"c","fields":["r","v"]}},{"filter":"datum.r==='k'"}],
   "mark":{"type":"line","clip":true,"color":"#3a3a3a","strokeWidth":1.3,"interpolate":"catmull-rom"},
   "encoding":{"detail":{"field":"c"},"order":{"value":null}}},
  {"data":{"name":"pb"},"transform":[{"lookup":"c","from":{"data":{"name":"meta"},"key":"c","fields":["r","v"]}},{"filter":"datum.r==='r'"}],
   "mark":{"type":"line","clip":true,"color":"#ee3333","strokeWidth":1.3,"interpolate":"catmull-rom"},
   "encoding":{"detail":{"field":"c"},"order":{"value":null}}},
  {"data":{"name":"lb"},"mark":{"type":"text","font":"DejaVu Sans","fontSize":10,"fill":"white","stroke":"white","strokeWidth":3},
   "encoding":{"text":{"field":"t"}}},
  {"data":{"name":"lb"},"mark":{"type":"text","font":"DejaVu Sans","fontSize":10},
   "encoding":{"text":{"field":"t"},"color":{"field":"r","type":"nominal","scale":{"domain":["k","r"],"range":["#3a3a3a","#ee3333"]},"legend":null}}},
  {"data":{"name":"tags"},"transform":[{"filter":"datum.p==='b'"}],"mark":{"type":"text","font":"Liberation Sans","fontSize":56,"fontWeight":"bold","align":"left","baseline":"alphabetic","fill":"#000"},
   "encoding":{"text":{"field":"t"}}}
 ]
}
]
}
